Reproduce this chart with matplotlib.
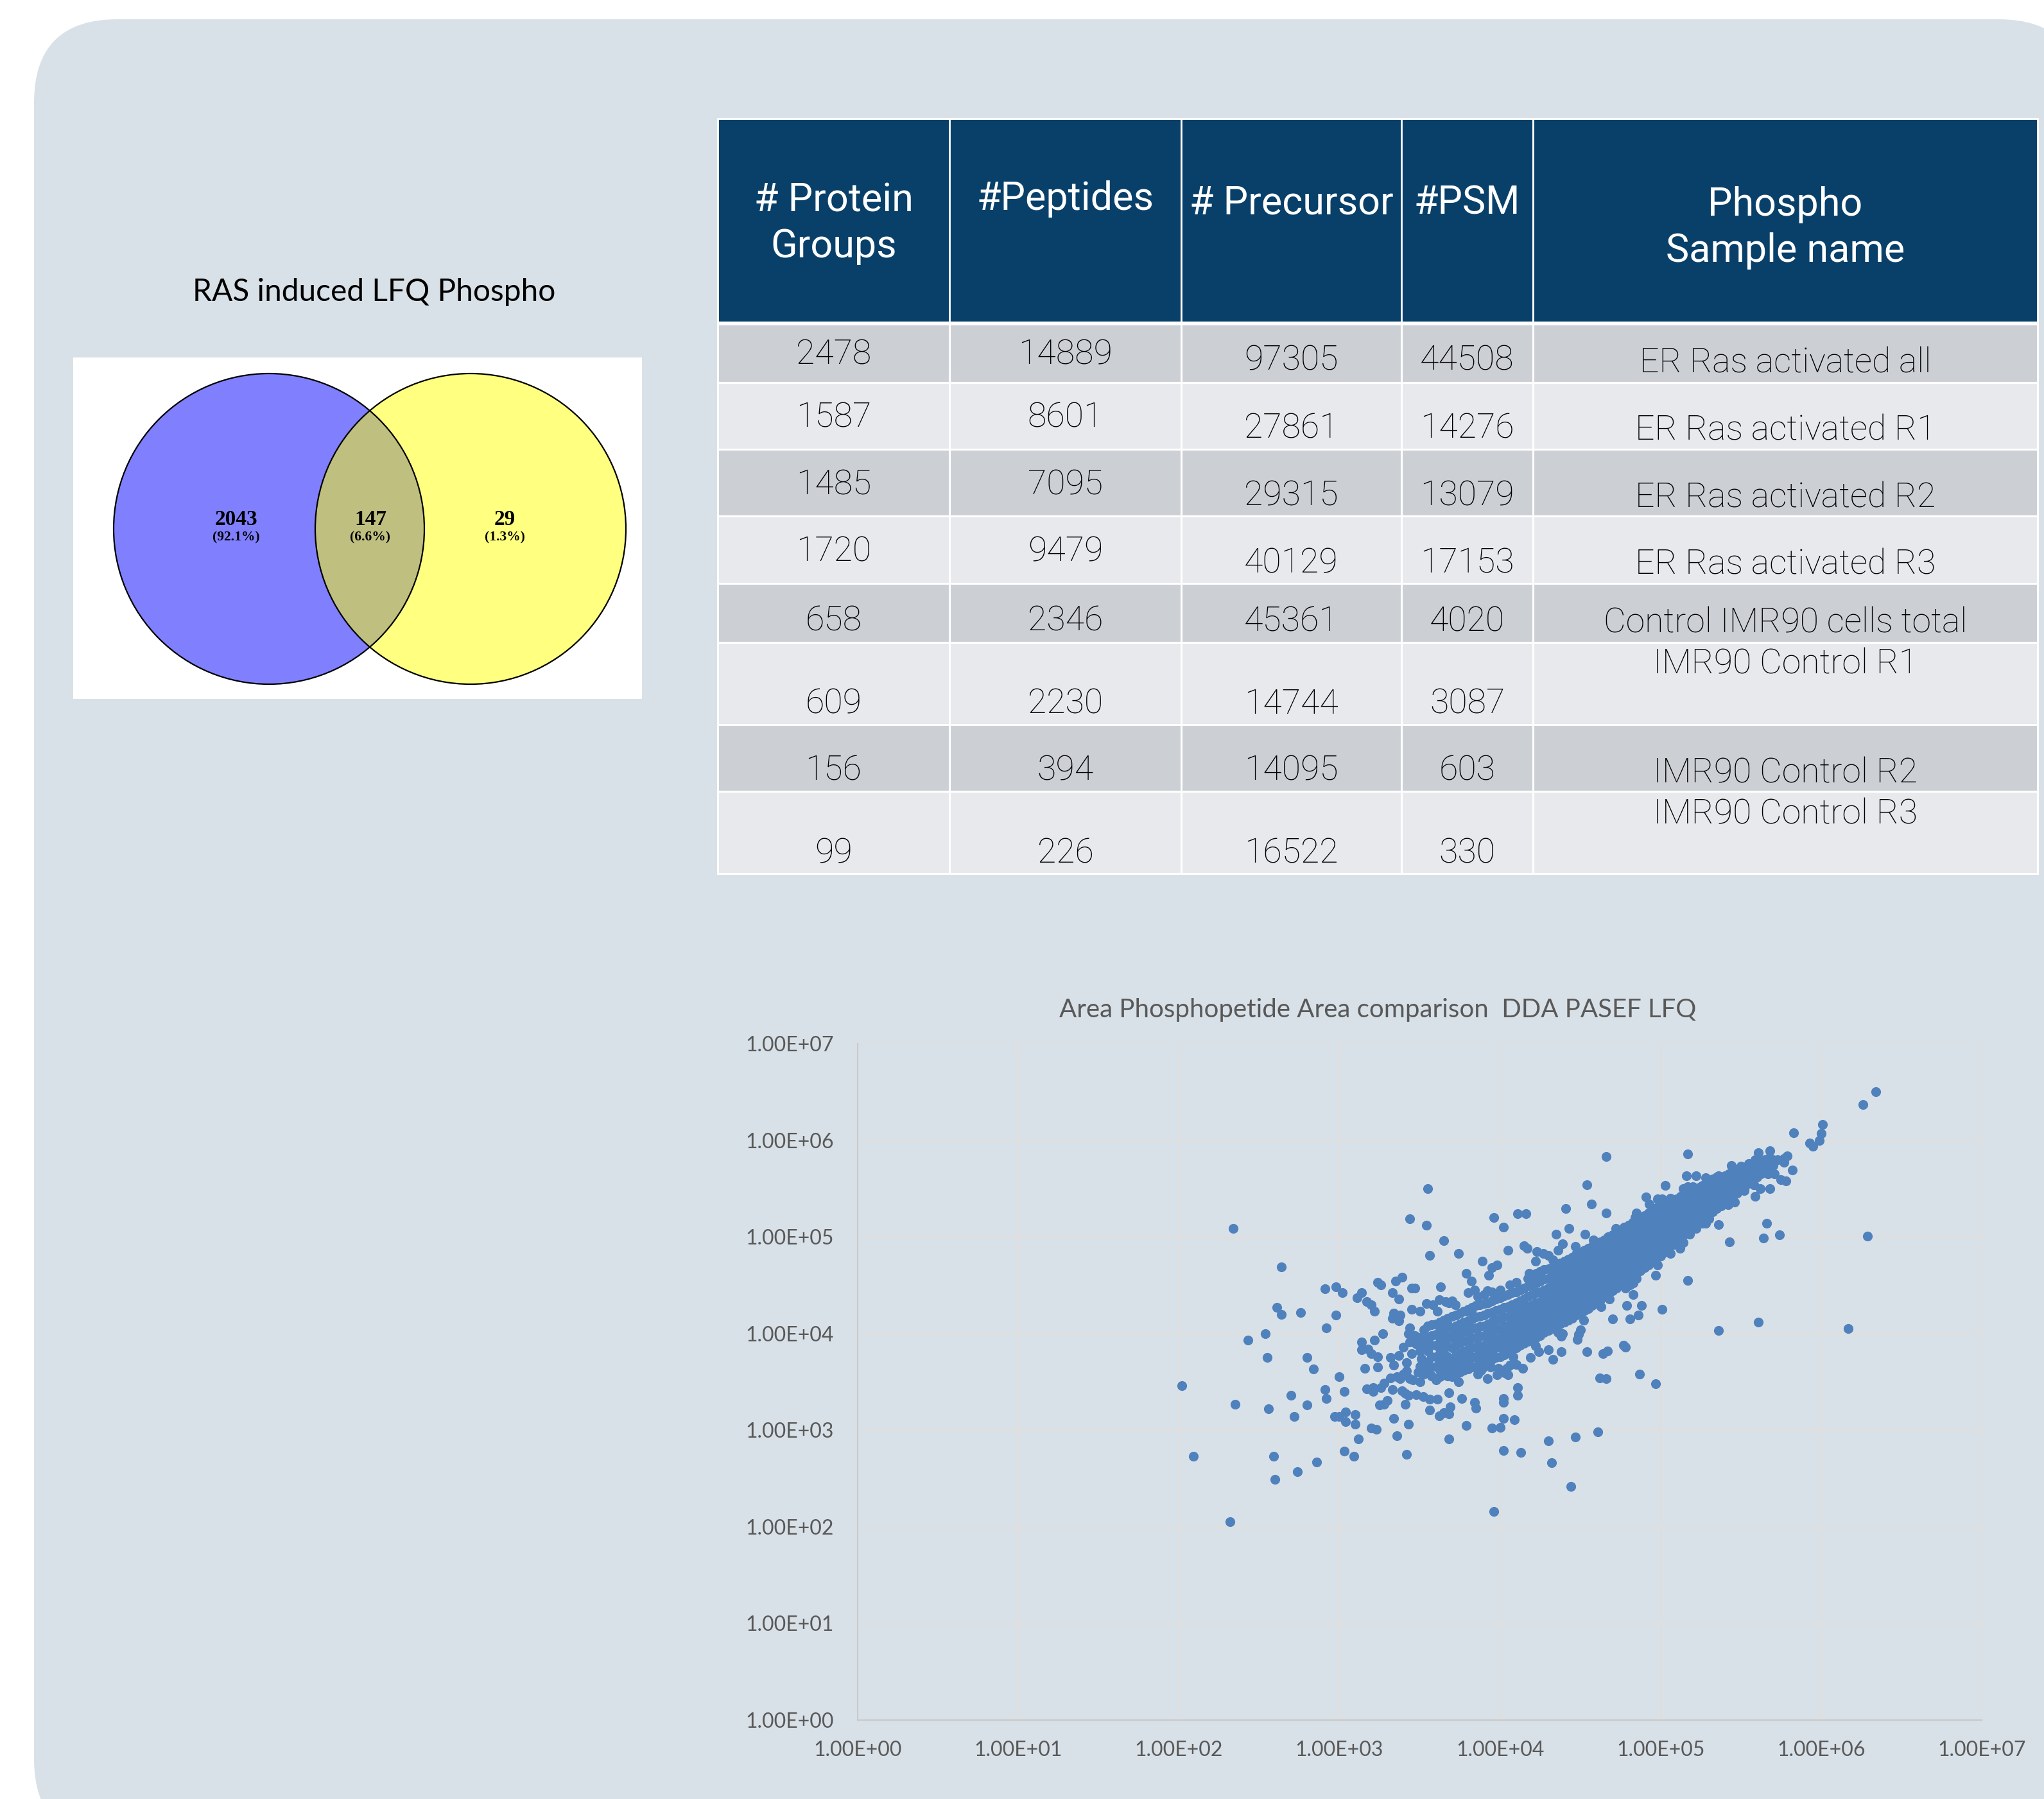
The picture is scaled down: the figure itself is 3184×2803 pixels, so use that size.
import matplotlib
matplotlib.use("Agg")
import matplotlib.pyplot as plt
from matplotlib.patches import FancyBboxPatch, Rectangle, Circle
from matplotlib.ticker import FuncFormatter, NullLocator

W, H = 3184, 2803

# ---------------- table data ----------------
header_labels = ["# Protein\nGroups", "#Peptides", "# Precursor", "#PSM", "Phospho\nSample name"]
protein_groups = [2478, 1587, 1485, 1720, 658, 609, 156, 99]
peptides = [14889, 8601, 7095, 9479, 2346, 2230, 394, 226]
precursors = [97305, 27861, 29315, 40129, 45361, 14744, 14095, 16522]
psms = [44508, 14276, 13079, 17153, 4020, 3087, 603, 330]
sample_names = ["ER Ras activated all", "ER Ras activated R1", "ER Ras activated R2",
                "ER Ras activated R3", "Control IMR90 cells total", "IMR90 Control R1",
                "IMR90 Control R2", "IMR90 Control R3"]

# ---------------- venn data ----------------
venn_title = "RAS induced LFQ Phospho"
venn_counts = [2043, 147, 29]   # only set A, shared, only set B

# ---------------- scatter data (log10 area, x vs y) ----------------
scatter_title = "Area Phosphopetide Area comparison  DDA PASEF LFQ"
axis_decades = [0, 1, 2, 3, 4, 5, 6, 7]

# individually resolved points around the main band
spread_pts = [
    (2.34, 5.09), (2.64, 4.69), (3.44, 5.19), (2.61, 4.27), (2.64, 4.20), (2.76, 4.22),
    (2.91, 4.46), (2.98, 4.48), (3.02, 4.42), (2.98, 4.19), (3.11, 4.37), (3.14, 4.42),
    (3.17, 4.33), (3.20, 4.30), (3.22, 4.23), (3.24, 4.53), (3.26, 4.50), (3.33, 4.42),
    (3.35, 4.54), (3.39, 4.58), (3.37, 4.36), (3.45, 4.47), (3.34, 4.21), (3.38, 4.19),
    (3.45, 4.25),
    (4.66, 5.83), (4.54, 5.54), (4.57, 5.34), (5.03, 5.53), (3.55, 5.50), (3.54, 5.12),
    (3.65, 4.96), (3.56, 4.81), (3.74, 4.83), (3.96, 5.20), (4.02, 5.10), (4.11, 5.24),
    (4.16, 5.24), (4.41, 5.29), (4.43, 5.09), (4.35, 5.03), (4.39, 4.93), (4.53, 5.03),
    (4.66, 5.25), (4.91, 5.41), (4.93, 5.34), (4.98, 5.39), (5.01, 5.39), (4.85, 5.25),
    (4.05, 4.86), (3.89, 4.75), (3.79, 4.62), (3.82, 4.54), (3.93, 4.60), (3.95, 4.68),
    (3.98, 4.71), (4.15, 4.91), (4.17, 4.88), (4.23, 4.85), (4.27, 4.83), (4.30, 4.81),
    (4.22, 4.75), (4.36, 4.86), (4.97, 4.60), (4.96, 4.78), (4.85, 4.57), (4.78, 4.47),
    (4.81, 4.50), (4.83, 4.40), (4.62, 4.41), (4.62, 4.37), (4.63, 4.28), (4.79, 4.29),
    (4.88, 4.29), (5.01, 4.25), (4.89, 4.69), (4.87, 4.65), (4.74, 4.54), (4.66, 4.51),
    (3.63, 4.48), (3.47, 4.47), (3.80, 4.42), (3.84, 4.45), (3.92, 4.44), (3.95, 4.43),
    (3.99, 4.42), (3.54, 4.31), (3.58, 4.30), (3.62, 4.35), (3.66, 4.33), (3.68, 4.32),
    (3.70, 4.34), (3.50, 4.23), (3.61, 4.23), (3.79, 4.23), (3.82, 4.23),
    (6.34, 6.50), (6.26, 6.37), (6.01, 6.16), (6.00, 6.07), (5.99, 6.00), (5.83, 6.08),
    (5.93, 5.97), (5.95, 5.94), (5.17, 5.86), (5.68, 5.89), (5.61, 5.87), (5.59, 5.80),
    (5.79, 5.84), (5.77, 5.81), (5.73, 5.80), (5.71, 5.78), (5.77, 5.77), (5.82, 5.69),
    (5.67, 5.65), (5.71, 5.65), (5.75, 5.59), (5.78, 5.58), (5.60, 5.65), (5.68, 5.50),
    (5.62, 5.50), (5.58, 5.54), (5.59, 5.42), (5.52, 5.48), (5.47, 5.45), (5.47, 5.68),
    (5.55, 5.76), (5.53, 5.71), (5.36, 5.63), (5.39, 5.60), (5.42, 5.33), (5.16, 5.63),
    (5.22, 5.63), (5.17, 5.52), (5.26, 5.53), (5.30, 5.55), (5.66, 5.14), (5.74, 5.02),
    (5.64, 4.99), (6.29, 5.01), (5.43, 4.95), (5.36, 5.13), (5.30, 5.19), (5.26, 5.14),
    (5.14, 4.94), (5.18, 5.03), (5.22, 5.09), (5.17, 4.55), (5.06, 4.83), (5.08, 4.92),
    (2.02, 3.46), (2.35, 3.27), (2.43, 3.93), (2.54, 4.00), (2.55, 3.75), (2.56, 3.22),
    (2.70, 3.36), (2.72, 3.14), (2.80, 3.75), (2.84, 3.63), (2.80, 3.26), (2.92, 4.06),
    (2.91, 3.42), (2.92, 3.33), (3.00, 3.55), (3.03, 3.40), (3.04, 3.19), (2.97, 3.14),
    (3.00, 3.14), (3.04, 3.09), (3.10, 3.16), (3.10, 3.06), (3.12, 2.91), (3.03, 2.78),
    (3.09, 2.73), (2.09, 2.73), (2.59, 2.73), (2.60, 2.49), (2.74, 2.57), (2.86, 2.67),
    (2.32, 2.05), (3.20, 3.02), (3.23, 3.01), (3.36, 2.94), (3.42, 2.75), (3.34, 3.12),
    (3.43, 3.06), (3.25, 3.26), (3.28, 3.27), (3.30, 3.31), (3.41, 3.27), (3.16, 3.64),
    (3.24, 3.65), (3.14, 3.91), (3.14, 3.83), (3.18, 3.84), (3.20, 3.79), (3.24, 3.76),
    (3.22, 3.93), (3.27, 4.00), (3.17, 3.43), (3.21, 3.44), (3.21, 3.40), (3.26, 3.44),
    (3.28, 3.49), (3.33, 3.42), (3.39, 3.41), (3.41, 3.38), (3.43, 3.36), (3.32, 3.75),
    (3.37, 3.77), (3.34, 3.67), (3.32, 3.54), (3.36, 3.55), (3.38, 3.53), (3.40, 3.58),
    (3.42, 3.61), (3.44, 3.53), (3.44, 4.06), (3.33, 4.16), (3.37, 4.13), (3.44, 3.91),
    (3.96, 2.16), (4.44, 2.42), (4.32, 2.66), (4.30, 2.89), (4.47, 2.93), (4.61, 2.98),
    (4.02, 2.79), (4.13, 2.77), (3.68, 2.91), (3.79, 3.05), (3.95, 3.02), (4.00, 3.03),
    (4.02, 3.12), (4.09, 3.11), (4.02, 3.33), (4.02, 3.29), (4.11, 3.44), (4.11, 3.36),
    (3.84, 3.29), (3.85, 3.23), (3.76, 3.33), (3.68, 3.39), (3.56, 3.21), (3.62, 3.15),
    (3.65, 3.18), (3.68, 3.17), (3.69, 3.24), (3.61, 3.32), (3.56, 3.32), (3.52, 3.35),
    (3.48, 3.37), (4.87, 3.58), (4.97, 3.48), (4.62, 3.54), (4.66, 3.53), (4.54, 3.81),
    (4.64, 3.79), (4.67, 3.82), (4.77, 3.88), (4.78, 3.86), (4.70, 4.15), (4.81, 4.15),
    (4.86, 4.19), (4.48, 3.94), (4.49, 3.99), (4.50, 4.04), (4.38, 3.97), (4.39, 4.00),
    (4.38, 3.81), (4.30, 3.83), (4.33, 3.73), (4.24, 3.81), (4.19, 3.75), (4.14, 3.64),
    (4.10, 3.68), (4.06, 3.67), (4.04, 3.64), (4.03, 3.59), (4.05, 3.57), (3.98, 3.57),
    (3.99, 3.64), (3.94, 3.65), (3.89, 3.64), (3.86, 3.58), (3.92, 3.53),
    (5.36, 4.03), (5.61, 4.12), (6.17, 4.05),
    # ragged edges of the dense band
    (3.72, 4.30), (3.86, 4.38), (4.06, 4.50), (4.18, 4.62), (4.33, 4.76), (4.47, 4.90),
    (4.58, 4.97), (4.72, 5.09), (4.84, 5.20), (5.06, 5.40), (5.14, 5.50), (5.28, 5.61),
    (5.44, 5.74), (3.74, 3.50), (3.88, 3.62), (4.08, 3.76), (4.22, 3.87), (4.36, 4.01),
    (4.52, 4.14), (4.68, 4.36), (4.83, 4.52), (4.98, 4.71), (5.12, 4.88), (5.28, 5.14),
    (5.46, 5.36), (5.58, 5.54), (3.42, 3.70), (3.40, 3.86), (3.45, 3.79), (3.47, 3.98),
    (3.43, 4.00), (3.49, 3.60), (3.46, 3.52), (3.51, 3.74), (3.48, 3.89),
]

# densely packed band: log10 x -> log10 y values along that column
band_cols = {
    3.50: [3.50, 3.66, 3.82, 3.96],
    3.525: [3.58, 3.71, 3.88, 4.04],
    3.55: [3.62, 3.70, 3.82, 3.95, 4.08],
    3.575: [3.56, 3.65, 3.76, 3.88, 3.98, 4.09],
    3.60: [3.52, 3.66, 3.76, 3.88, 3.99, 4.10],
    3.625: [3.55, 3.62, 3.72, 3.84, 3.95, 4.06, 4.12],
    3.65: [3.58, 3.69, 3.80, 3.91, 4.02, 4.14],
    3.675: [3.56, 3.66, 3.76, 3.87, 3.97, 4.09, 4.16],
    3.70: [3.55, 3.64, 3.74, 3.85, 3.96, 4.06, 4.18],
    3.725: [3.57, 3.68, 3.77, 3.88, 3.98, 4.08, 4.19],
    3.75: [3.60, 3.70, 3.79, 3.90, 4.00, 4.10, 4.21],
    3.775: [3.62, 3.71, 3.81, 3.92, 4.02, 4.12, 4.23],
    3.80: [3.63, 3.73, 3.83, 3.93, 4.03, 4.13, 4.25],
    3.825: [3.65, 3.75, 3.85, 3.95, 4.05, 4.15, 4.27],
    3.85: [3.66, 3.76, 3.86, 3.96, 4.06, 4.17, 4.29],
    3.875: [3.68, 3.78, 3.87, 3.97, 4.07, 4.18, 4.30],
    3.90: [3.70, 3.79, 3.88, 3.98, 4.08, 4.19, 4.31, 4.40],
    3.925: [3.72, 3.81, 3.90, 4.00, 4.10, 4.21, 4.32],
    3.95: [3.73, 3.83, 3.92, 4.02, 4.12, 4.22, 4.34],
    3.975: [3.75, 3.85, 3.94, 4.04, 4.14, 4.24, 4.36],
    4.00: [3.76, 3.86, 3.95, 4.05, 4.15, 4.25, 4.37, 4.45],
    4.025: [3.78, 3.88, 3.97, 4.07, 4.17, 4.27, 4.39],
    4.05: [3.80, 3.90, 3.99, 4.08, 4.18, 4.28, 4.40],
    4.075: [3.83, 3.92, 4.01, 4.10, 4.20, 4.30, 4.42],
    4.10: [3.85, 3.94, 4.03, 4.12, 4.22, 4.32, 4.43, 4.53],
    4.125: [3.88, 3.96, 4.05, 4.14, 4.24, 4.34, 4.45],
    4.15: [3.90, 3.98, 4.07, 4.16, 4.26, 4.36, 4.47],
    4.175: [3.92, 4.00, 4.09, 4.18, 4.28, 4.38, 4.49, 4.57],
    4.20: [3.93, 4.02, 4.11, 4.20, 4.30, 4.40, 4.50, 4.60],
    4.225: [3.96, 4.04, 4.13, 4.22, 4.32, 4.42, 4.52, 4.62],
    4.25: [3.98, 4.06, 4.15, 4.24, 4.33, 4.43, 4.54, 4.64],
    4.275: [4.01, 4.09, 4.17, 4.26, 4.35, 4.45, 4.56, 4.66],
    4.30: [4.03, 4.11, 4.19, 4.28, 4.37, 4.47, 4.57, 4.67],
    4.325: [4.05, 4.13, 4.22, 4.31, 4.40, 4.49, 4.59, 4.69],
    4.35: [4.07, 4.15, 4.24, 4.33, 4.42, 4.51, 4.61, 4.71],
    4.375: [4.10, 4.18, 4.27, 4.35, 4.44, 4.53, 4.63, 4.73],
    4.40: [4.12, 4.20, 4.29, 4.37, 4.46, 4.55, 4.65, 4.75],
    4.425: [4.14, 4.23, 4.31, 4.40, 4.49, 4.58, 4.67, 4.77],
    4.45: [4.16, 4.25, 4.33, 4.42, 4.51, 4.60, 4.69, 4.79],
    4.475: [4.19, 4.28, 4.36, 4.45, 4.54, 4.63, 4.72, 4.82],
    4.50: [4.21, 4.30, 4.38, 4.47, 4.56, 4.65, 4.74, 4.84],
    4.525: [4.24, 4.33, 4.41, 4.50, 4.59, 4.68, 4.77, 4.86],
    4.55: [4.26, 4.35, 4.43, 4.52, 4.61, 4.70, 4.79, 4.88],
    4.575: [4.29, 4.38, 4.46, 4.55, 4.64, 4.72, 4.81, 4.90],
    4.60: [4.32, 4.40, 4.48, 4.57, 4.66, 4.74, 4.83, 4.92],
    4.625: [4.35, 4.43, 4.51, 4.60, 4.69, 4.77, 4.86, 4.95],
    4.65: [4.38, 4.46, 4.54, 4.62, 4.71, 4.79, 4.88, 4.97],
    4.675: [4.41, 4.49, 4.57, 4.65, 4.74, 4.82, 4.91, 5.00],
    4.70: [4.44, 4.52, 4.60, 4.68, 4.76, 4.84, 4.93, 5.02],
    4.725: [4.47, 4.55, 4.63, 4.71, 4.79, 4.87, 4.96, 5.05],
    4.75: [4.50, 4.58, 4.66, 4.74, 4.82, 4.90, 4.98, 5.07],
    4.775: [4.53, 4.61, 4.69, 4.77, 4.85, 4.93, 5.01, 5.10],
    4.80: [4.56, 4.64, 4.72, 4.80, 4.88, 4.96, 5.04, 5.12],
    4.825: [4.59, 4.67, 4.75, 4.83, 4.91, 4.99, 5.07, 5.15],
    4.85: [4.62, 4.70, 4.78, 4.86, 4.94, 5.02, 5.10, 5.17],
    4.875: [4.65, 4.73, 4.81, 4.89, 4.97, 5.05, 5.12, 5.20],
    4.90: [4.68, 4.76, 4.84, 4.92, 5.00, 5.08, 5.15, 5.22],
    4.925: [4.71, 4.79, 4.87, 4.95, 5.03, 5.10, 5.18, 5.25],
    4.95: [4.74, 4.82, 4.90, 4.98, 5.06, 5.13, 5.20, 5.27],
    4.975: [4.77, 4.85, 4.93, 5.01, 5.09, 5.16, 5.23, 5.30],
    5.00: [4.80, 4.88, 4.96, 5.04, 5.12, 5.19, 5.26, 5.32],
    5.025: [4.84, 4.92, 5.00, 5.08, 5.15, 5.22, 5.29],
    5.05: [4.88, 4.96, 5.04, 5.12, 5.19, 5.26, 5.33],
    5.075: [4.92, 5.00, 5.07, 5.15, 5.22, 5.29, 5.36],
    5.10: [4.95, 5.03, 5.11, 5.18, 5.25, 5.32, 5.39],
    5.125: [4.99, 5.07, 5.14, 5.21, 5.28, 5.35, 5.42],
    5.15: [5.03, 5.10, 5.18, 5.25, 5.32, 5.39, 5.46],
    5.175: [5.06, 5.13, 5.21, 5.28, 5.35, 5.42, 5.49],
    5.20: [5.09, 5.17, 5.24, 5.31, 5.38, 5.45, 5.52],
    5.225: [5.13, 5.20, 5.27, 5.34, 5.41, 5.48],
    5.25: [5.16, 5.24, 5.31, 5.38, 5.45, 5.52],
    5.275: [5.20, 5.27, 5.34, 5.41, 5.48, 5.54],
    5.30: [5.23, 5.30, 5.37, 5.44, 5.51, 5.57],
    5.325: [5.26, 5.33, 5.40, 5.47, 5.54, 5.60],
    5.35: [5.29, 5.36, 5.43, 5.50, 5.57, 5.62],
    5.375: [5.32, 5.39, 5.46, 5.53, 5.60],
    5.40: [5.35, 5.42, 5.49, 5.56, 5.63],
    5.425: [5.38, 5.45, 5.52, 5.59, 5.65],
    5.45: [5.42, 5.49, 5.56, 5.62, 5.68],
    5.475: [5.45, 5.52, 5.59, 5.65, 5.70],
    5.50: [5.49, 5.56, 5.62, 5.68, 5.73],
    5.525: [5.52, 5.59, 5.65, 5.71],
    5.55: [5.56, 5.62, 5.68, 5.74],
    5.575: [5.59, 5.65, 5.71, 5.76],
    5.60: [5.62, 5.68, 5.74, 5.79],
    5.625: [5.65, 5.71, 5.77],
    5.65: [5.68, 5.74, 5.80],
    5.675: [5.71, 5.77, 5.82],
    5.70: [5.74, 5.80],
}

# ---------------- colours ----------------
PANEL = "#D9E1E8"
NAVY = "#08406A"
ROW_DARK = "#CCCFD4"
ROW_LIGHT = "#E7E9EC"
POINT = "#4F81BD"
GREY_TXT = "#595959"

SANS = ["Lato", "DejaVu Sans"]
ROBOTO = ["Roboto", "DejaVu Sans"]
SERIF = ["Liberation Serif", "DejaVu Serif"]

fig = plt.figure(figsize=(W / 100, H / 100), dpi=100, facecolor="white")

# pixel-space canvas for the panel, venn and table
bg = fig.add_axes([0, 0, 1, 1])
bg.set_xlim(0, W)
bg.set_ylim(H, 0)
bg.axis("off")

bg.add_patch(FancyBboxPatch((53, 30), 3190, 2840,
                            boxstyle="round,pad=0,rounding_size=130",
                            fc=PANEL, ec="none", zorder=0))

# ---------------- venn diagram ----------------
bg.text(583, 455, venn_title, ha="center", va="center", fontsize=34.5,
        family=SANS, color="black")
bg.add_patch(Rectangle((114, 557), 886, 532, fc="white", ec="none", zorder=1))
r = 242
left_c = Circle((419, 824), r, fc="#8080FF", ec="none", zorder=2)
right_c = Circle((733, 824), r, fc="#FFFF80", ec="none", zorder=2)
bg.add_patch(left_c)
bg.add_patch(right_c)
overlap = Circle((733, 824), r, fc="#BFBF80", ec="none", zorder=3)
bg.add_patch(overlap)
overlap.set_clip_path(left_c)
for cx in (419, 733):
    bg.add_patch(Circle((cx, 824), r, fc="none", ec="black", lw=1.6, zorder=4))

total = sum(venn_counts)
for cx, n in zip((368, 577, 786), venn_counts):
    bg.text(cx, 810, f"{n}", ha="center", va="center", fontsize=24,
            fontweight="bold", family=SERIF, zorder=5)
    bg.text(cx, 837, f"({100 * n / total:.1f}%)", ha="center", va="center",
            fontsize=15.5, fontweight="bold", family=SERIF, zorder=5)

# ---------------- table ----------------
col_edges = [1118, 1479, 1840, 2183, 2388, 3174]
head_top, head_bot = 185, 502
row_edges = [502, 596, 700, 804, 909, 1001, 1129, 1233, 1361]

for i in range(len(col_edges) - 1):
    bg.add_patch(Rectangle((col_edges[i], head_top), col_edges[i + 1] - col_edges[i],
                           head_bot - head_top, fc=NAVY, ec="white", lw=2, zorder=2))
header_y = [348, 310, 317, 317, 355]
for i, lab in enumerate(header_labels):
    cx = (col_edges[i] + col_edges[i + 1]) / 2
    bg.text(cx, header_y[i], lab, ha="center", va="center", color="white",
            fontsize=44, family=ROBOTO, linespacing=1.3, zorder=3)

for j in range(len(row_edges) - 1):
    fc = ROW_DARK if j % 2 == 0 else ROW_LIGHT
    for i in range(len(col_edges) - 1):
        bg.add_patch(Rectangle((col_edges[i], row_edges[j]), col_edges[i + 1] - col_edges[i],
                               row_edges[j + 1] - row_edges[j], fc=fc, ec="white",
                               lw=2.2, zorder=2))
bg.plot([col_edges[0], col_edges[-1]], [head_bot + 2, head_bot + 2], color="white",
        lw=4, zorder=3, solid_capstyle="butt")

y_left = [553, 651, 756, 860, 968, 1097, 1201, 1330]
y_mid = [562, 668, 773, 878, 969, 1097, 1201, 1330]
y_name = [566, 671, 776, 880, 971, 1035, 1205, 1269]
columns = [(protein_groups, y_left), (peptides, y_left), (precursors, y_mid), (psms, y_mid),
           (sample_names, y_name)]
for i, (vals, ys) in enumerate(columns):
    cx = (col_edges[i] + col_edges[i + 1]) / 2
    for v, yy in zip(vals, ys):
        bg.text(cx, yy, f"{v}", ha="center", va="center", fontsize=38.5,
                family=ROBOTO, fontweight="light", color="black", zorder=3)

# ---------------- scatter ----------------
xs, ys = [], []
for lx, ly in spread_pts:
    xs.append(10 ** lx)
    ys.append(10 ** ly)
for lx, col in band_cols.items():
    for ly in col:
        xs.append(10 ** lx)
        ys.append(10 ** ly)

ax = fig.add_axes([1336 / W, 1 - 2680 / H, (3087 - 1336) / W, (2680 - 1626) / H])
ax.set_facecolor("none")
ax.set_xscale("log")
ax.set_yscale("log")
lo, hi = 10.0 ** axis_decades[0], 10.0 ** axis_decades[-1]
ax.set_xlim(lo, hi)
ax.set_ylim(lo, hi)
ticks = [10.0 ** d for d in axis_decades]
ax.set_xticks(ticks)
ax.set_yticks(ticks)
ax.xaxis.set_minor_locator(NullLocator())
ax.yaxis.set_minor_locator(NullLocator())
fmt = FuncFormatter(lambda v, _: f"{v:.2E}")
ax.xaxis.set_major_formatter(fmt)
ax.yaxis.set_major_formatter(fmt)
ax.tick_params(axis="x", length=0, pad=23, labelsize=23, labelcolor=GREY_TXT)
ax.tick_params(axis="y", length=0, pad=27, labelsize=23, labelcolor=GREY_TXT)
for lab in ax.get_xticklabels() + ax.get_yticklabels():
    lab.set_family(SANS)
ax.grid(True, color="#E1DEDB", lw=1.6)
ax.set_axisbelow(True)
for side in ("top", "right"):
    ax.spines[side].set_visible(False)
for side in ("left", "bottom"):
    ax.spines[side].set_color("#C9C9C9")
    ax.spines[side].set_linewidth(1.5)

ax.scatter(xs, ys, s=120, color=POINT, linewidths=0, zorder=3, clip_on=False)

bg.text(2146, 1574, scatter_title, ha="center", va="center", fontsize=29,
        family=SANS, color=GREY_TXT)

fig.savefig("out.png", dpi=100, facecolor="white")
